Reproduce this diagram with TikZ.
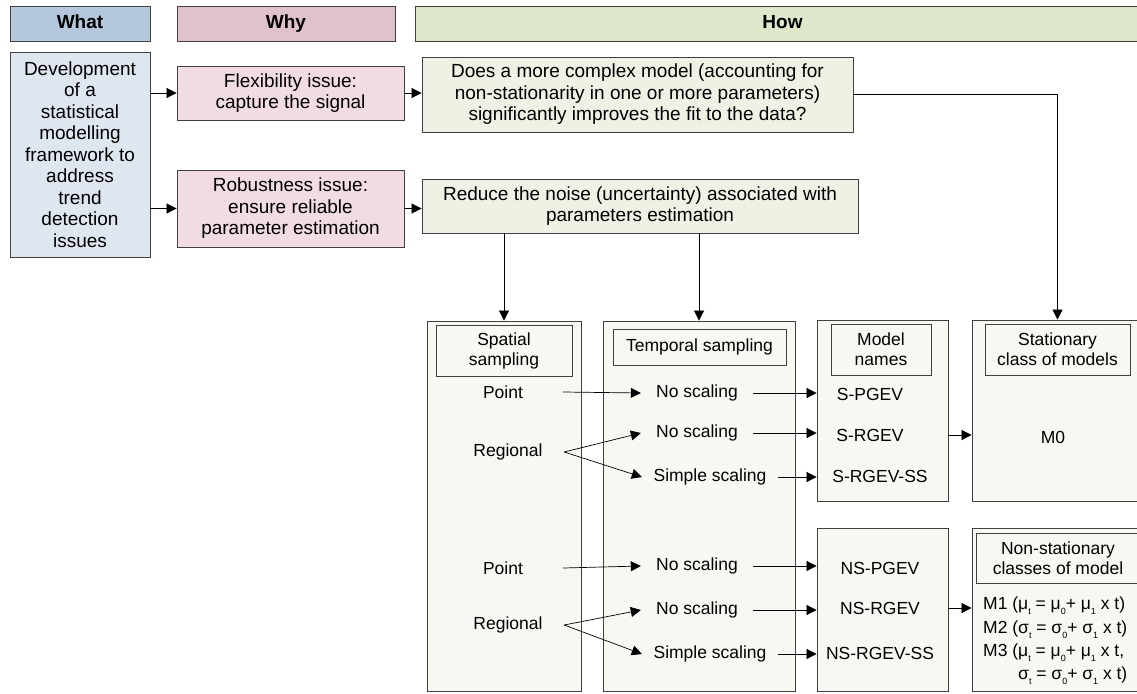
\documentclass[tikz,border=0pt]{standalone}
\usepackage{fontspec}
\setmainfont{Liberation Sans}
\usetikzlibrary{arrows.meta}
\definecolor{whathead}{HTML}{B4C7DC}
\definecolor{whatfill}{HTML}{DEE6EF}
\definecolor{whyhead}{HTML}{E0C2CD}
\definecolor{whyfill}{HTML}{F2DCE4}
\definecolor{howhead}{HTML}{DDE8CB}
\definecolor{howfill}{HTML}{EEF2E4}
\definecolor{colfill}{HTML}{F6F9F1}
\newcommand{\lowidx}[1]{\raisebox{-0.3em}{\fontsize{9}{9}\selectfont #1}}
\begin{document}
\begin{tikzpicture}[x=1pt, y=-1pt,
    every node/.style={font=\fontsize{19}{21.5}\selectfont, align=center, inner sep=0pt},
    box/.style={draw=black!75, line width=0.8pt},
    head/.style={box, font=\fontsize{19}{21.5}\selectfont\bfseries, minimum height=35,
      text height=14pt, text depth=4pt},
    item/.style={font=\fontsize{17.5}{20}\selectfont},
    col/.style={box, item, fill=colfill},
    arr/.style={-{Triangle[length=10pt,width=10pt]}, line width=0.7pt}]
  \useasboundingbox (0,0) rectangle (1137,693);

  % column headers
  \node[head, fill=whathead, minimum width=140] (what) at (80,23.5) {What};
  \node[head, fill=whyhead, minimum width=218] (why) at (286,23.5) {Why};
  \node[head, fill=howhead, minimum width=735] (how) at (782.5,23.5) {How};

  % upper part
  \node[box, fill=whatfill, minimum width=140, minimum height=205] (dev) at (80,154.5)
    {Development\\of a\\statistical\\modelling\\framework to\\address\\trend\\detection\\issues};
  \node[box, fill=whyfill, minimum width=227, minimum height=54] (flex) at (290.5,93)
    {Flexibility issue:\\capture the signal};
  \node[box, fill=whyfill, minimum width=227, minimum height=77] (robust) at (290.5,208.5)
    {Robustness issue:\\ensure reliable\\parameter estimation};
  \node[box, fill=howfill, minimum width=431, minimum height=75] (does) at (637.5,94.5)
    {Does a more complex model (accounting for\\non-stationarity in one or more parameters)\\significantly improves the fit to the data?};
  \node[box, fill=howfill, minimum width=436, minimum height=54] (reduce) at (640,206)
    {Reduce the noise (uncertainty) associated with\\parameters estimation};

  % lower columns
  \node[col, minimum width=154, minimum height=370] (spC) at (504,506) {};
  \node[col, minimum width=192, minimum height=370] (tpC) at (699,506) {};
  \node[col, minimum width=131, minimum height=181] (modS) at (882.5,410.5) {};
  \node[col, minimum width=171, minimum height=181] (statC) at (1057.5,410.5) {};
  \node[col, minimum width=131, minimum height=163] (modNS) at (882.5,609.5) {};
  \node[col, minimum width=180, minimum height=163] (nsC) at (1062,609.5) {};

  \node[col, minimum width=136, minimum height=51] (spH) at (504,350.5) {Spatial\\sampling};
  \node[col, minimum width=173, minimum height=36] (tpH) at (699.5,347) {Temporal sampling};
  \node[col, minimum width=100, minimum height=51] (modH) at (881,349.5) {Model\\names};
  \node[col, minimum width=145, minimum height=51] (statH) at (1057.5,349.5) {Stationary\\class of models};
  \node[col, minimum width=164, minimum height=50] (nsH) at (1058,558) {Non-stationary\\classes of model};

  % stationary rows
  \node[item, minimum width=120] (pointA) at (503,392) {Point};
  \node[item, minimum width=112] (regA) at (508,452) {Regional};
  \node[item, minimum width=112] (noscA) at (697,393) {No scaling};
  \node[item, minimum width=112] (noscB) at (697,433) {No scaling};
  \node[item, minimum width=136] (simA) at (710,477) {Simple scaling};
  \node[item] (sPGEV) at (870,394) {S-PGEV};
  \node[item] (sRGEV) at (870,435) {S-RGEV};
  \node[item] (sRGEVSS) at (880,476) {S-RGEV-SS};
  \node[item] (mzero) at (1053,437) {M0};

  % non-stationary rows
  \node[item, minimum width=120] (pointB) at (503,568) {Point};
  \node[item, minimum width=112] (regB) at (508,625) {Regional};
  \node[item, minimum width=112] (noscC) at (697,566) {No scaling};
  \node[item, minimum width=112] (noscD) at (697,610) {No scaling};
  \node[item, minimum width=136] (simB) at (710,654) {Simple scaling};
  \node[item] (nsPGEV) at (880,568) {NS-PGEV};
  \node[item] (nsRGEV) at (880,608) {NS-RGEV};
  \node[item] (nsRGEVSS) at (880,653) {NS-RGEV-SS};
  \node[anchor=west, align=left, font=\fontsize{17.5}{23.3}\selectfont] (mform) at (983,641)
    {M1 (μ\lowidx{t} = μ\lowidx{0}+ μ\lowidx{1} x t)\\
     M2 (σ\lowidx{t} = σ\lowidx{0}+ σ\lowidx{1} x t)\\
     M3 (μ\lowidx{t} = μ\lowidx{0}+ μ\lowidx{1} x t,\\
     \phantom{M3 (}σ\lowidx{t} = σ\lowidx{0}+ σ\lowidx{1} x t)};

  % connectors
  \draw[arr] (dev.east |- flex) -- (flex.west);
  \draw[arr] (dev.east |- robust) -- (robust.west);
  \draw[arr] (flex.east) -- (flex.east -| does.west);
  \draw[arr] (robust.east) -- (robust.east -| reduce.west);
  \draw[arr] (does.east) -| (statC.north);
  \draw[arr] (spC.north |- reduce.south) -- (spC.north);
  \draw[arr] (tpC.north |- reduce.south) -- (tpC.north);

  \draw[arr] (pointA.east) -- (noscA.west);
  \draw[arr] (regA.east) -- (noscB.west);
  \draw[arr] (regA.east) -- (simA.west);
  \draw[arr] (noscA.east) -- (noscA.east -| modS.west);
  \draw[arr] (noscB.east) -- (noscB.east -| modS.west);
  \draw[arr] (simA.east) -- (simA.east -| modS.west);
  \draw[arr] (sRGEV -| modS.east) -- (sRGEV -| statC.west);

  \draw[arr] (pointB.east) -- (noscC.west);
  \draw[arr] (regB.east) -- (noscD.west);
  \draw[arr] (regB.east) -- (simB.west);
  \draw[arr] (noscC.east) -- (noscC.east -| modNS.west);
  \draw[arr] (noscD.east) -- (noscD.east -| modNS.west);
  \draw[arr] (simB.east) -- (simB.east -| modNS.west);
  \draw[arr] (nsRGEV -| modNS.east) -- (nsRGEV -| nsC.west);
\end{tikzpicture}
\end{document}
